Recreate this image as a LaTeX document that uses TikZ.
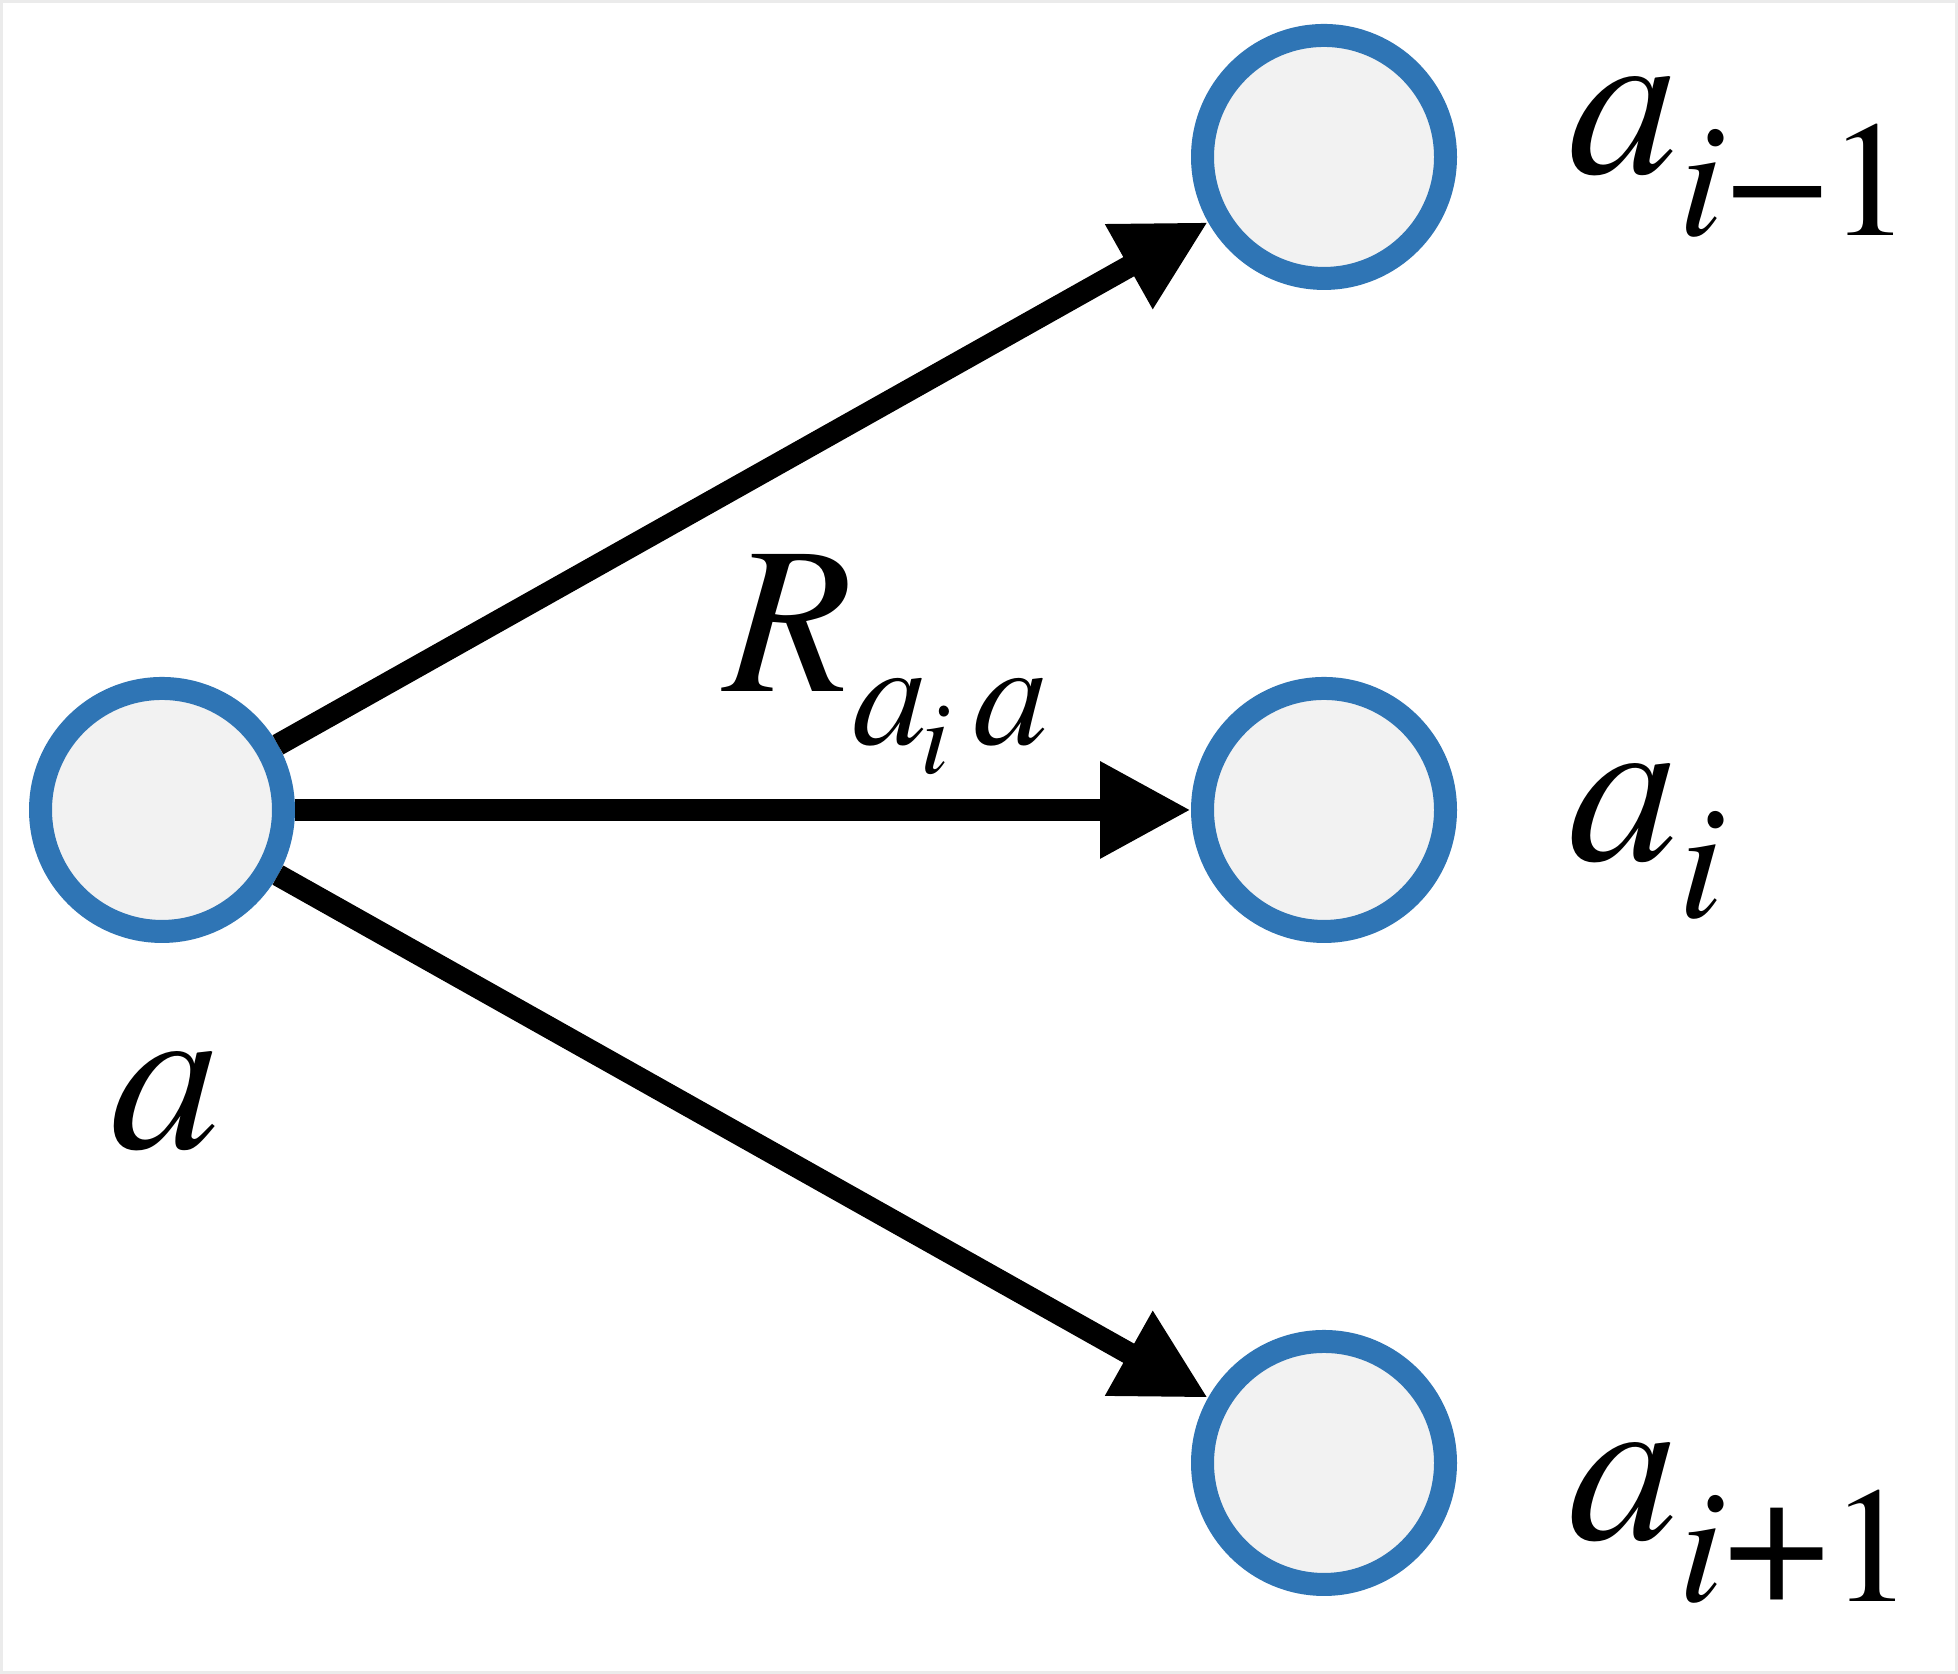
\documentclass[tikz,border=0pt]{standalone}
\usepackage{fontspec}
\setmainfont{TeX Gyre Termes}
\usetikzlibrary{arrows.meta}
\definecolor{nodeblue}{HTML}{2F75B5}
\definecolor{nodefill}{HTML}{F2F2F2}
\definecolor{framegray}{HTML}{EBEBEB}
\newcommand{\mainsz}{\fontsize{22pt}{22pt}\selectfont}
\newcommand{\rmainsz}{\fontsize{21pt}{21pt}\selectfont}
\newcommand{\subsz}{\fontsize{16.5pt}{16.5pt}\selectfont}
\newcommand{\rsubsz}{\fontsize{15pt}{15pt}\selectfont}
\newcommand{\rsubsubsz}{\fontsize{10.5pt}{10.5pt}\selectfont}
\tikzset{
  circ/.style={circle, draw=nodeblue, fill=nodefill, line width=2.3pt, minimum size=24.3pt, inner sep=0pt},
  conn/.style={line width=2.2pt, -{Triangle[length=9.1pt,width=9.1pt]}},
  lbl/.style={inner sep=0pt, outer sep=0pt, anchor=base west}
}
\begin{document}
\begin{tikzpicture}[x=0.1pt, y=-0.1pt]
\useasboundingbox (0,0) rectangle (1958,1674);
\fill[white] (0,0) rectangle (1958,1674);
\draw[framegray, line width=0.3pt] (1.5,1.5) rectangle (1956.5,1672.5);

\node[circ] (a) at (162,810) {};
\node[circ] (t) at (1324,157) {};
\node[circ] (m) at (1324,810) {};
\node[circ] (b) at (1324,1463) {};

\draw[conn] (a) -- (t);
\draw[conn] (a) -- (m);
\draw[conn] (a) -- (b);

\node[lbl] (la) at (111,1149) {\mainsz\itshape a};
\node[lbl] (lt) at (1568,174) {\mainsz\itshape a\raisebox{-6.2pt}{\subsz\itshape i\upshape\hspace{0.25pt}\scalebox{1.1}[1.05]{−}\hspace{0pt}1}};
\node[lbl] (lm) at (1568,861) {\mainsz\itshape a\raisebox{-5.7pt}{\subsz\itshape i}};
\node[lbl] (lb) at (1568,1540) {\mainsz\itshape a\raisebox{-6.2pt}{\subsz\itshape i\upshape\scalebox{1.15}[1.15]{+}\hspace{0pt}1}};
\node[lbl] (lr) at (724,692) {\rmainsz\itshape R\raisebox{-5.25pt}{\rsubsz\itshape a\hspace{-0.7pt}\raisebox{-2.9pt}{\rsubsubsz i}\hspace{2.4pt}a}};
\end{tikzpicture}
\end{document}
